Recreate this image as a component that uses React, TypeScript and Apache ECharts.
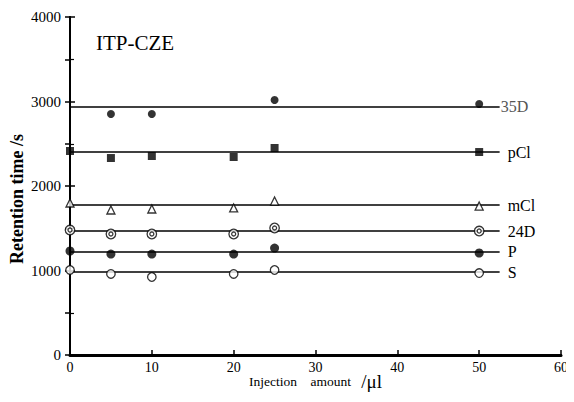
import React, { useEffect, useRef } from "react";
import * as echarts from "echarts";

const xTicks = [0, 10, 20, 30, 40, 50, 60];
const injection = [0, 5, 10, 20, 25, 50];
const lineEndX = 52.5;

const compounds = ["35D", "pCl", "mCl", "24D", "P", "S"];
const fitValues = [2935, 2402, 1775, 1467, 1219, 982];

const v35D = [null, 2852, 2852, null, 3018, 2970];
const vpCl = [2414, 2331, 2355, 2343, 2450, 2402];
const vmCl = [1799, 1716, 1728, 1740, 1822, 1763];
const v24D = [1479, 1432, 1432, 1432, 1503, 1467];
const vP = [1231, 1195, 1195, 1195, 1266, 1207];
const vS = [1006, 959, 923, 959, 1006, 970];

const SERIF = "'Liberation Serif', 'DejaVu Serif', serif";

function pts(vals: (number | null)[]) {
  return injection
    .map((x, i) => [x, vals[i]])
    .filter((p) => p[1] !== null);
}

export default function App() {
  const ref = useRef<HTMLDivElement>(null);
  useEffect(() => {
    if (!ref.current) return;
    const chart = echarts.init(ref.current, null, { renderer: "svg" });
    const lineSeries = compounds.map((name, i) => ({
      type: "line",
      name,
      data: [
        [0, fitValues[i]],
        [lineEndX, fitValues[i]],
      ],
      symbol: "none",
      lineStyle: { color: "#000", width: 1.6 },
      endLabel: {
        show: true,
        formatter: name,
        fontFamily: SERIF,
        fontSize: 16,
        color: name === "35D" ? "#555" : "#000",
        distance: name === "35D" ? 1 : 8,
      },
      z: 2,
    }));
    const markerBase = { type: "scatter", z: 3 };
    const open = { color: "#fff", borderColor: "#000", borderWidth: 1.3 };
    const scatterSeries = [
      { ...markerBase, data: pts(v35D), symbol: "circle", symbolSize: 8, itemStyle: { color: "#000" } },
      { ...markerBase, data: pts(vpCl), symbol: "rect", symbolSize: 8, itemStyle: { color: "#000" } },
      { ...markerBase, data: pts(vmCl), symbol: "triangle", symbolSize: 8, itemStyle: open },
      { ...markerBase, data: pts(v24D), symbol: "circle", symbolSize: 9.5, itemStyle: open },
      { ...markerBase, z: 4, data: pts(v24D), symbol: "circle", symbolSize: 4, itemStyle: open },
      { ...markerBase, data: pts(vP), symbol: "circle", symbolSize: 9, itemStyle: { color: "#000" } },
      { ...markerBase, data: pts(vS), symbol: "circle", symbolSize: 8.5, itemStyle: open },
    ];
    chart.setOption({
      animation: false,
      backgroundColor: "#fff",
      grid: { left: 70, right: 13, top: 17, bottom: 47, containLabel: false, outerBoundsMode: "none" },
      title: {
        text: "ITP-CZE",
        left: 96,
        top: 32,
        padding: 0,
        textStyle: { fontFamily: SERIF, fontSize: 21, fontWeight: "normal", color: "#000" },
      },
      xAxis: [
        {
          type: "value",
          min: 0,
          max: 60,
          interval: 10,
          name: "{a|Injection    amount   }{b|/μl}",
          nameLocation: "middle",
          nameGap: 17,
          nameMoveOverlap: false,
          nameTextStyle: {
            padding: [0, 0, 0, 0],
            rich: {
              a: { fontFamily: SERIF, fontSize: 13.5, color: "#000" },
              b: { fontFamily: SERIF, fontSize: 19, color: "#000" },
            },
          },
          axisLine: { show: true, lineStyle: { color: "#000", width: 2 } },
          axisTick: { show: true, inside: true, length: 5, lineStyle: { color: "#000", width: 1.5 } },
          axisLabel: {
            fontFamily: SERIF,
            fontSize: 14,
            color: "#000",
            margin: 5,
            formatter: (v: number) => (xTicks.includes(v) ? String(v) : ""),
          },
          splitLine: { show: false },
        },
        {
          type: "value",
          position: "top",
          min: 0,
          max: 60,
          interval: 10,
          axisLine: { show: true, lineStyle: { color: "#000", width: 3 } },
          axisTick: { show: false },
          axisLabel: { show: false },
          splitLine: { show: false },
        },
      ],
      yAxis: [
        {
          type: "value",
          min: 0,
          max: 4000,
          interval: 1000,
          name: "Retention time /s",
          nameLocation: "middle",
          nameGap: 44,
          nameMoveOverlap: false,
          nameTextStyle: {
            fontFamily: SERIF,
            fontSize: 18,
            fontWeight: "bold",
            color: "#000",
            padding: [0, 26, 0, 0],
          },
          axisLine: { show: true, lineStyle: { color: "#000", width: 2 } },
          axisTick: { show: true, inside: true, length: 5, lineStyle: { color: "#000", width: 1.5 } },
          minorTick: { show: true, splitNumber: 2, length: 4, lineStyle: { color: "#000", width: 1.2 } },
          axisLabel: {
            fontFamily: SERIF,
            fontSize: 15,
            color: "#000",
            margin: 9,
            formatter: (v: number) => String(v),
          },
          splitLine: { show: false },
        },
        {
          type: "value",
          position: "right",
          min: 0,
          max: 4000,
          interval: 500,
          axisLine: { show: true, lineStyle: { color: "#000", width: 2 } },
          axisTick: { show: true, inside: true, length: 5, lineStyle: { color: "#000", width: 1.5 } },
          axisLabel: { show: false },
          splitLine: { show: false },
        },
      ],
      series: [...lineSeries, ...scatterSeries],
    });
    return () => chart.dispose();
  }, []);
  return <div ref={ref} style={{ width: 574, height: 402, margin: -8 }} />;
}
